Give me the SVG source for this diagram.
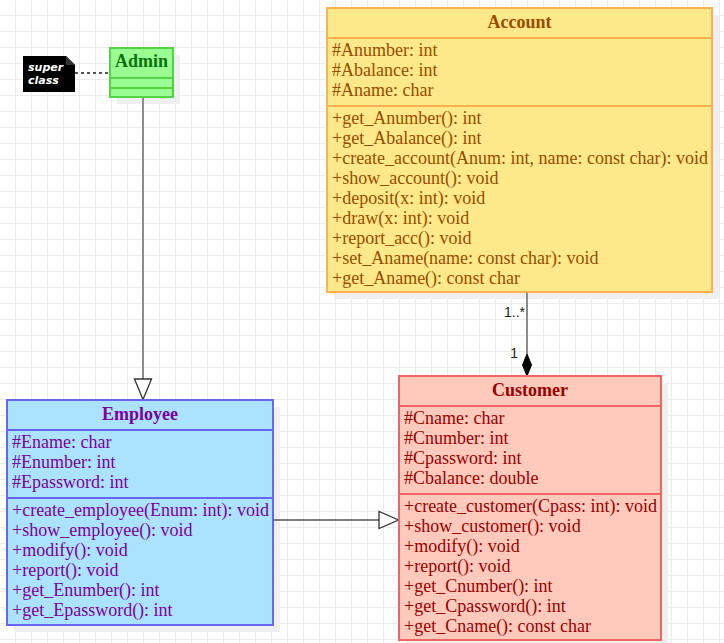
<svg xmlns="http://www.w3.org/2000/svg" width="724" height="643" viewBox="0 0 724 643">
<defs>
<pattern id="grid" width="16" height="16" patternUnits="userSpaceOnUse">
<path d="M15.5 0V16M0 15.5H16" fill="none" stroke="#ebebeb" stroke-width="1"/>
</pattern>
<style>
text{font-family:"Liberation Serif","Times New Roman",serif;font-size:18px}
.t{font-weight:bold;text-anchor:middle}
.sh{fill:#efefef}
.acc rect,.acc line{fill:#fde989;stroke:#ffb152;stroke-width:2}
.acc text{fill:#994c00}
.adm rect,.adm line{fill:#99fd92;stroke:#55d245;stroke-width:2}
.adm text{fill:#0c720c}
.emp rect,.emp line{fill:#abe2fd;stroke:#6666f0;stroke-width:2}
.emp text{fill:#7b00a0}
.cus rect,.cus line{fill:#ffc9bb;stroke:#f06464;stroke-width:2}
.cus text{fill:#990000}
.edge{fill:none;stroke:#555;stroke-width:1.3}
.lbl{font-family:"Liberation Sans",Arial,sans-serif;font-size:14px;fill:#222;text-anchor:end}
</style>
</defs>
<rect width="724" height="643" fill="#ffffff"/>
<rect width="724" height="643" fill="url(#grid)"/>

<g id="shadows">
<rect class="sh" x="117" y="55" width="63" height="49"/>
<rect class="sh" x="334" y="15" width="385" height="284"/>
<rect class="sh" x="14" y="407" width="266" height="225"/>
<rect class="sh" x="406" y="383" width="262" height="264"/>
</g>

<g id="connectors">
<path class="edge" d="M143 97V379"/>
<polygon points="134.5,379 151.5,379 143,399.5" fill="#fff" stroke="#333" stroke-width="1.3"/>
<path class="edge" d="M273 520H379"/>
<polygon points="379,511.5 379,528.5 398.5,520" fill="#fff" stroke="#333" stroke-width="1.3"/>
<path class="edge" d="M527 292V354"/>
<polygon points="527,354 531.5,365 527,376 522.5,365" fill="#000" stroke="#000" stroke-width="1"/>
<text class="lbl" x="525" y="317">1..*</text>
<text class="lbl" x="518" y="358">1</text>
<path d="M75 73H110" fill="none" stroke="#555" stroke-width="2" stroke-dasharray="3 3"/>
</g>

<g id="note">
<polygon points="23,56 66,56 75,65 75,92 23,92" fill="#000"/>
<polygon points="66,56 75,65 66,65" fill="#333"/>
<text x="28" y="71" style="font-family:'DejaVu Sans',sans-serif;font-size:11px;font-style:italic;font-weight:bold;fill:#fff">super</text>
<text x="28" y="84" style="font-family:'DejaVu Sans',sans-serif;font-size:11px;font-style:italic;font-weight:bold;fill:#fff">class</text>
</g>

<g id="admin" class="adm">
<rect x="110" y="48" width="63" height="49"/>
<line x1="110" y1="78" x2="173" y2="78"/>
<line x1="110" y1="88" x2="173" y2="88"/>
<text class="t" x="141.5" y="67">Admin</text>
</g>

<g id="account" class="acc">
<rect x="327" y="8" width="385" height="284"/>
<line x1="327" y1="38" x2="712" y2="38"/>
<line x1="327" y1="106" x2="712" y2="106"/>
<text class="t" x="519.5" y="28">Account</text>
<text x="332" y="56">#Anumber: int</text>
<text x="332" y="76">#Abalance: int</text>
<text x="332" y="96">#Aname: char</text>
<text x="332" y="124">+get_Anumber(): int</text>
<text x="332" y="144">+get_Abalance(): int</text>
<text x="332" y="164">+create_account(Anum: int, name: const char): void</text>
<text x="332" y="184">+show_account(): void</text>
<text x="332" y="204">+deposit(x: int): void</text>
<text x="332" y="224">+draw(x: int): void</text>
<text x="332" y="244">+report_acc(): void</text>
<text x="332" y="264">+set_Aname(name: const char): void</text>
<text x="332" y="284">+get_Aname(): const char</text>
</g>

<g id="employee" class="emp">
<rect x="7" y="400" width="266" height="225"/>
<line x1="7" y1="430" x2="273" y2="430"/>
<line x1="7" y1="498" x2="273" y2="498"/>
<text class="t" x="140" y="420">Employee</text>
<text x="12" y="448">#Ename: char</text>
<text x="12" y="468">#Enumber: int</text>
<text x="12" y="488">#Epassword: int</text>
<text x="12" y="516">+create_employee(Enum: int): void</text>
<text x="12" y="536">+show_employee(): void</text>
<text x="12" y="556">+modify(): void</text>
<text x="12" y="576">+report(): void</text>
<text x="12" y="596">+get_Enumber(): int</text>
<text x="12" y="616">+get_Epassword(): int</text>
</g>

<g id="customer" class="cus">
<rect x="399" y="376" width="262" height="264"/>
<line x1="399" y1="406" x2="661" y2="406"/>
<line x1="399" y1="494" x2="661" y2="494"/>
<text class="t" x="530" y="396">Customer</text>
<text x="404" y="424">#Cname: char</text>
<text x="404" y="444">#Cnumber: int</text>
<text x="404" y="464">#Cpassword: int</text>
<text x="404" y="484">#Cbalance: double</text>
<text x="404" y="512">+create_customer(Cpass: int): void</text>
<text x="404" y="532">+show_customer(): void</text>
<text x="404" y="552">+modify(): void</text>
<text x="404" y="572">+report(): void</text>
<text x="404" y="592">+get_Cnumber(): int</text>
<text x="404" y="612">+get_Cpassword(): int</text>
<text x="404" y="632">+get_Cname(): const char</text>
</g>
</svg>
